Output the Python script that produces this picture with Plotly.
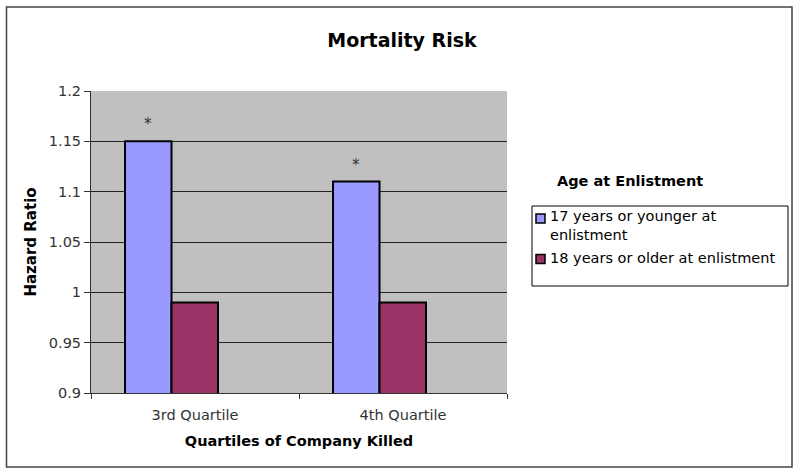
import plotly.graph_objects as go

categories = ["3rd Quartile", "4th Quartile"]
series_names = ["17 years or younger at<br>enlistment", "18 years or older at enlistment"]
young_values = [1.15, 1.11]
older_values = [0.99, 0.99]
significance = ["*", "*"]
y_ticks = [0.9, 0.95, 1.0, 1.05, 1.1, 1.15, 1.2]
y_tick_labels = ["0.9", "0.95", "1", "1.05", "1.1", "1.15", "1.2"]

BLUE = "#9999FF"
RED = "#993366"
FONT = "DejaVu Sans, Verdana, sans-serif"
FS = 14.5

fig = go.Figure()
fig.add_trace(go.Bar(x=categories, y=young_values, name=series_names[0],
                     marker=dict(color=BLUE, line=dict(color="black", width=2)),
                     width=0.2236, offset=-0.3365, showlegend=False))
fig.add_trace(go.Bar(x=categories, y=older_values, name=series_names[1],
                     marker=dict(color=RED, line=dict(color="black", width=2)),
                     width=0.2236, offset=-0.113, showlegend=False))

# significance asterisks above the blue bars
for c, v, s in zip(categories, young_values, significance):
    fig.add_annotation(x=c, y=v, xref="x", yref="y", text=s, showarrow=False,
                       xshift=-47, yshift=17, font=dict(family=FONT, size=15, color="#333"))

# plot area: x 91..507, y 91..393
L, R, T, B = 91, 507, 91, 393
W, H = R - L, B - T
def px(xp):
    return (xp - L) / W
def py(yp):
    return (B - yp) / H

shapes = []
# outer chart border
shapes.append(dict(type="rect", xref="paper", yref="paper",
                   x0=px(6.5), x1=px(792), y0=py(7), y1=py(467),
                   line=dict(color="#444", width=1.5), layer="below"))
# legend box
shapes.append(dict(type="rect", xref="paper", yref="paper",
                   x0=px(532), x1=px(788), y0=py(206), y1=py(286),
                   line=dict(color="black", width=1)))
# legend swatches
swatch_y = [218.5, 259]
for col, yc in zip([BLUE, RED], swatch_y):
    shapes.append(dict(type="rect", xref="paper", yref="paper",
                       x0=px(536), x1=px(545), y0=py(yc + 4.5), y1=py(yc - 4.5),
                       fillcolor=col, line=dict(color="black", width=1.5)))

annotations = []
annotations.append(dict(xref="paper", yref="paper", x=px(555), y=py(181), xanchor="left",
                        yanchor="middle", text="<b>Age at Enlistment</b>", showarrow=False,
                        font=dict(family=FONT, size=FS, color="black")))
text_y = [226, 258]
for name, yc in zip(series_names, text_y):
    annotations.append(dict(xref="paper", yref="paper", x=px(548), y=py(yc), xanchor="left",
                            yanchor="middle", align="left", text=name, showarrow=False,
                            font=dict(family=FONT, size=FS, color="black")))

fig.update_layout(
    width=800, height=476,
    margin=dict(l=L, r=800 - R, t=T, b=476 - B),
    paper_bgcolor="white", plot_bgcolor="#C0C0C0",
    font=dict(family=FONT, size=FS, color="#333"),
    title=dict(text="<b>Mortality Risk</b>", x=px(402), xref="paper", xanchor="center",
               y=1 - 40 / 476, yanchor="middle", font=dict(family=FONT, size=19, color="black")),
    barmode="overlay",
    shapes=shapes,
    annotations=fig.layout.annotations + tuple(annotations),
)
fig.update_xaxes(showline=True, linecolor="#333", linewidth=1, ticks="outside",
                 tickson="boundaries", ticklen=5, tickcolor="#333", showgrid=False,
                 ticklabelstandoff=9,
                 tickfont=dict(family=FONT, size=FS, color="#333"),
                 title=dict(text="<b>Quartiles of Company Killed</b>", standoff=13,
                            font=dict(family=FONT, size=FS, color="black")))
fig.update_yaxes(range=[0.9, 1.2], tickvals=y_ticks, ticktext=y_tick_labels,
                 showline=True, linecolor="#333", linewidth=1, ticks="outside",
                 ticklen=6, tickcolor="#333", showgrid=True, gridcolor="#222", gridwidth=1,
                 zeroline=False, tickfont=dict(family=FONT, size=FS, color="#333"),
                 title=dict(text="<b>Hazard Ratio</b>", standoff=8,
                            font=dict(family=FONT, size=15, color="black")))

fig.write_html("out.html", config={"displayModeBar": False},
               post_script="document.body.style.margin='0';")
